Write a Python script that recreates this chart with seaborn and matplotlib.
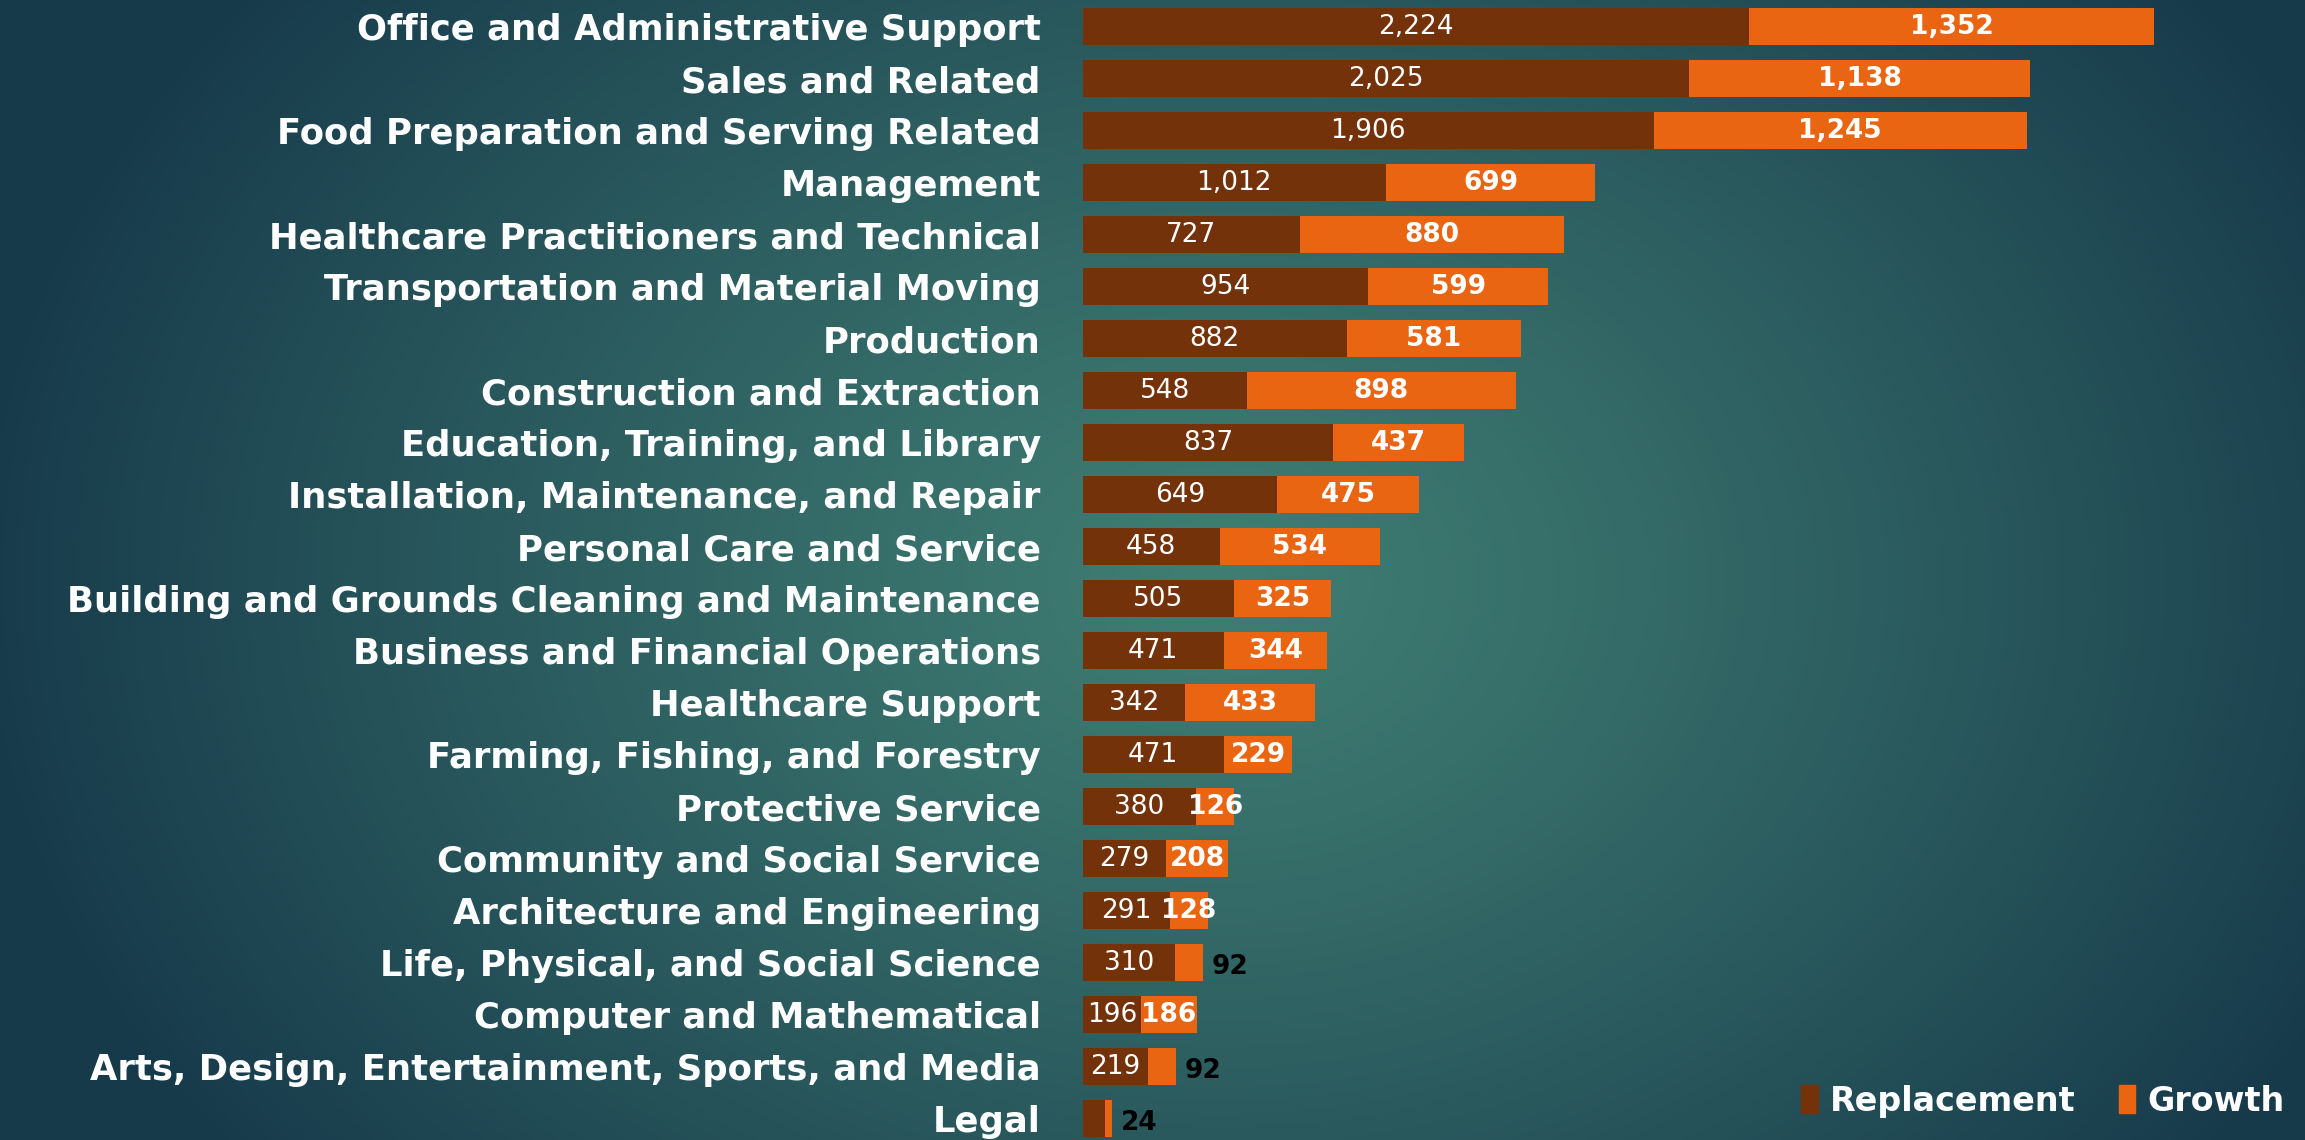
import numpy as np
import pandas as pd
import matplotlib
matplotlib.use("Agg")
import matplotlib.pyplot as plt
import seaborn as sns
from matplotlib.patches import Patch

categories = [
    "Office and Administrative Support",
    "Sales and Related",
    "Food Preparation and Serving Related",
    "Management",
    "Healthcare Practitioners and Technical",
    "Transportation and Material Moving",
    "Production",
    "Construction and Extraction",
    "Education, Training, and Library",
    "Installation, Maintenance, and Repair",
    "Personal Care and Service",
    "Building and Grounds Cleaning and Maintenance",
    "Business and Financial Operations",
    "Healthcare Support",
    "Farming, Fishing, and Forestry",
    "Protective Service",
    "Community and Social Service",
    "Architecture and Engineering",
    "Life, Physical, and Social Science",
    "Computer and Mathematical",
    "Arts, Design, Entertainment, Sports, and Media",
    "Legal",
]
replacement = [2224, 2025, 1906, 1012, 727, 954, 882, 548, 837, 649, 458, 505,
               471, 342, 471, 380, 279, 291, 310, 196, 219, 75]
growth = [1352, 1138, 1245, 699, 880, 599, 581, 898, 437, 475, 534, 325,
          344, 433, 229, 126, 208, 128, 92, 186, 92, 24]
show_rep_label = [True] * 21 + [False]

BROWN = "#74320b"
ORANGE = "#ea6512"
FONT = ["DejaVu Sans"]

sns.set_style("white")
plt.rcParams["font.family"] = FONT

W, H = 2305, 1140
fig = plt.figure(figsize=(W / 100, H / 100), dpi=100)

# background radial gradient
bg = fig.add_axes([0, 0, 1, 1], zorder=-10)
yy, xx = np.mgrid[0:H, 0:W]
d = np.sqrt(((xx - 1220) / 1250.0) ** 2 + ((yy - 580) / 950.0) ** 2)
d = np.clip(d, 0, 1) ** 1.15
c0 = np.array([0x40, 0x7e, 0x73]) / 255.0
c1 = np.array([0x17, 0x3a, 0x4b]) / 255.0
img = c0[None, None, :] * (1 - d[..., None]) + c1[None, None, :] * d[..., None]
bg.imshow(img, aspect="auto", extent=[0, 1, 0, 1], origin="upper")
bg.axis("off")

df = pd.DataFrame({"cat": categories, "rep": replacement, "gro": growth})
df["tot"] = df["rep"] + df["gro"]

ax = fig.add_axes([1082.5 / W, 0, 1 - 1082.5 / W, 1])
ax.patch.set_alpha(0)
sns.barplot(data=df, x="tot", y="cat", color=ORANGE, width=0.71, saturation=1,
            ax=ax, orient="h", linewidth=0)
sns.barplot(data=df, x="rep", y="cat", color=BROWN, width=0.71, saturation=1,
            ax=ax, orient="h", linewidth=0)

ax.set_xlim(0, 4079)
ax.set_ylim(21.41, -0.513)
ax.set_xlabel("")
ax.set_ylabel("")
ax.set_xticks([])
for s in ax.spines.values():
    s.set_visible(False)
ax.tick_params(axis="y", length=0, pad=30)
for lab in ax.get_yticklabels():
    lab.set_color("white")
    lab.set_fontweight("bold")
    lab.set_fontsize(25.5)

for i, (r, g) in enumerate(zip(replacement, growth)):
    if show_rep_label[i]:
        ax.text(r / 2, i, f"{r:,}", ha="center", va="center", color="white",
                fontsize=19, fontweight="normal")
    if g < 100:
        ax.text(r + g + 30, i + 0.08, f"{g:,}", ha="left", va="center",
                color="black", fontsize=19, fontweight="bold")
    else:
        ax.text(r + g / 2, i, f"{g:,}", ha="center", va="center",
                color="white", fontsize=19, fontweight="bold")

handles = [Patch(color=BROWN, label="Replacement"),
           Patch(color=ORANGE, label="Growth")]
leg = fig.legend(handles=handles, loc="center right",
                 bbox_to_anchor=(1.004, 0.034), ncol=2, frameon=False,
                 handlelength=0.5, handleheight=0.9, handletextpad=0.35,
                 columnspacing=1.3, prop={"family": FONT, "weight": "bold",
                                          "size": 24})
for t in leg.get_texts():
    t.set_color("white")

fig.savefig("out.png", dpi=100)
